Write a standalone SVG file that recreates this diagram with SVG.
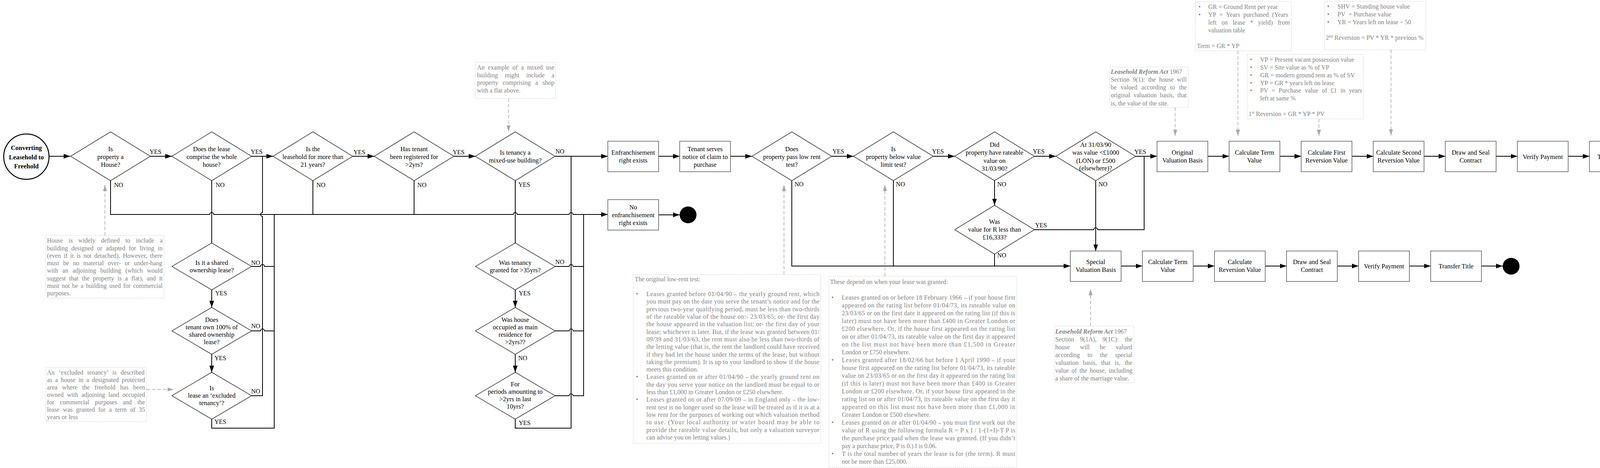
<svg xmlns="http://www.w3.org/2000/svg" width="4300" height="1198" viewBox="0 0 4300 1198">
<defs>
<style>
.c{fill:none;stroke:#000;stroke-width:2}
.d{fill:#fff;stroke:#000;stroke-width:1.2}
.b{fill:#fff;stroke:#555;stroke-width:1.5}
.t{font-family:"Liberation Serif","Times New Roman",serif;font-size:16.5px;fill:#000;text-anchor:middle}
.l{font-family:"Liberation Serif","Times New Roman",serif;font-size:16px;fill:#000}
.n{font-family:"Liberation Serif","Times New Roman",serif;font-size:16px;fill:#7f7f7f}
.nb{fill:#fff;stroke:#c8c8c8;stroke-width:1;stroke-dasharray:3 2}
.da{fill:none;stroke:#a6a6a6;stroke-width:1.5;stroke-dasharray:9 5}
.e{fill:#000}
</style>
<marker id="ar" markerUnits="userSpaceOnUse" markerWidth="18" markerHeight="12" refX="17" refY="6" orient="auto"><path d="M0,0 L17,6 L0,12 z" fill="#000"/></marker>
<marker id="ag" markerUnits="userSpaceOnUse" markerWidth="17" markerHeight="11" refX="16" refY="5" orient="auto"><path d="M0,0 L16,5 L0,10 z" fill="#a6a6a6"/></marker>
</defs>
<rect width="4300" height="1198" fill="#fff"/>

<!-- Notes -->
<g id="note-house">
<rect class="nb" x="117.5" y="602.5" width="302.5" height="160.5"/>
<text class="n" x="120.3" y="621.2" style="word-spacing:10.38px">House is widely defined to include a</text>
<text class="n" x="120.3" y="640.5" style="word-spacing:5.04px">building designed or adapted for living in</text>
<text class="n" x="120.3" y="659.8" style="word-spacing:3.13px">(even if it is not detached). However, there</text>
<text class="n" x="120.3" y="679.1" style="word-spacing:6.23px">must be no material over- or under-hang</text>
<text class="n" x="120.3" y="698.4" style="word-spacing:6.84px">with an adjoining building (which would</text>
<text class="n" x="120.3" y="717.7" style="word-spacing:4.73px">suggest that the property is a flat), and it</text>
<text class="n" x="120.3" y="737" style="word-spacing:2.48px">must not be a building used for commercial</text>
<text class="n" x="120.3" y="756.3">purposes.</text>
</g>
<g id="note-excluded">
<rect class="nb" x="117.5" y="940.7" width="257.5" height="138.6"/>
<text class="n" x="120.3" y="958.8" style="word-spacing:6.33px">An ‘excluded tenancy’ is described</text>
<text class="n" x="120.3" y="977.8" style="word-spacing:3.62px">as a house in a designated protected</text>
<text class="n" x="120.3" y="996.8" style="word-spacing:8.18px">area where the freehold has been</text>
<text class="n" x="120.3" y="1015.8" style="word-spacing:4.53px">owned with adjoining land occupied</text>
<text class="n" x="120.3" y="1034.8" style="word-spacing:10.3px">for commercial purposes and the</text>
<text class="n" x="120.3" y="1053.8" style="word-spacing:4.82px">lease was granted for a term of 35</text>
<text class="n" x="120.3" y="1072.8">years or less</text>
</g>
<g id="note-mixed">
<rect class="nb" x="1217" y="159.3" width="205.5" height="93"/>
<text class="n" x="1221.2" y="178.2" style="word-spacing:4.5px">An example of a mixed use</text>
<text class="n" x="1221.2" y="197.7" style="word-spacing:13.7px">building might include a</text>
<text class="n" x="1221.2" y="217.2" style="word-spacing:7.5px">property comprising a shop</text>
<text class="n" x="1221.2" y="236.7">with a flat above.</text>
</g>
<g id="note-lowrent">
<rect class="nb" x="1621" y="703" width="480" height="432"/>
<text class="n" x="1625" y="719.5">The original low-rent test:</text>
<text class="n" x="1628" y="758.1">•</text>
<text class="n" x="1654.7" y="758.1" textLength="443" lengthAdjust="spacing">Leases granted before 01/04/90 – the yearly ground rent, which</text>
<text class="n" x="1654.7" y="777.4" textLength="443" lengthAdjust="spacing">you must pay on the date you serve the tenant’s notice and for the</text>
<text class="n" x="1654.7" y="796.7" textLength="443" lengthAdjust="spacing">previous two-year qualifying period, must be less than two-thirds</text>
<text class="n" x="1654.7" y="816" textLength="443" lengthAdjust="spacing">of the rateable value of the house on:- 23/03/65; or- the first day</text>
<text class="n" x="1654.7" y="835.3" textLength="443" lengthAdjust="spacing">the house appeared in the valuation list; or- the first day of your</text>
<text class="n" x="1654.7" y="854.6" textLength="443" lengthAdjust="spacing">lease; whichever is later. But, if the lease was granted between 01/</text>
<text class="n" x="1654.7" y="873.9" textLength="443" lengthAdjust="spacing">09/39 and 31/03/63, the rent must also be less than two-thirds of</text>
<text class="n" x="1654.7" y="893.2" textLength="443" lengthAdjust="spacing">the letting value (that is, the rent the landlord could have received</text>
<text class="n" x="1654.7" y="912.5" textLength="443" lengthAdjust="spacing">if they had let the house under the terms of the lease, but without</text>
<text class="n" x="1654.7" y="931.8" textLength="443" lengthAdjust="spacing">taking the premium). It is up to your landlord to show if the house</text>
<text class="n" x="1654.7" y="951.1">meets this condition.</text>
<text class="n" x="1628" y="970.4">•</text>
<text class="n" x="1654.7" y="970.4" textLength="443" lengthAdjust="spacing">Leases granted on or after 01/04/90 – the yearly ground rent on</text>
<text class="n" x="1654.7" y="989.7" textLength="443" lengthAdjust="spacing">the day you serve your notice on the landlord must be equal to or</text>
<text class="n" x="1654.7" y="1009">less than £1,000 in Greater London or £250 elsewhere.</text>
<text class="n" x="1628" y="1028.3">•</text>
<text class="n" x="1654.7" y="1028.3" textLength="443" lengthAdjust="spacing">Leases granted on or after 07/09/09 – in England only – the low-</text>
<text class="n" x="1654.7" y="1047.6" textLength="443" lengthAdjust="spacing">rent test is no longer used so the lease will be treated as if it is at a</text>
<text class="n" x="1654.7" y="1066.9" textLength="443" lengthAdjust="spacing">low rent for the purposes of working out which valuation method</text>
<text class="n" x="1654.7" y="1086.2" textLength="443" lengthAdjust="spacing">to use. (Your local authority or water board may be able to</text>
<text class="n" x="1654.7" y="1105.5" textLength="443" lengthAdjust="spacing">provide the rateable value details, but only a valuation surveyor</text>
<text class="n" x="1654.7" y="1124.8">can advise you on letting values.)</text>
</g>
<g id="note-depend">
<rect class="nb" x="2122" y="707" width="481" height="489"/>
<text class="n" x="2125" y="726.5">These depend on when your lease was granted:</text>
<text class="n" x="2128.5" y="766.5">•</text>
<text class="n" x="2155" y="766.5" textLength="444" lengthAdjust="spacing">Leases granted on or before 18 February 1966 – if your house first</text>
<text class="n" x="2155" y="786.5" textLength="444" lengthAdjust="spacing">appeared on the rating list before 01/04/73, its rateable value on</text>
<text class="n" x="2155" y="806.5" textLength="444" lengthAdjust="spacing">23/03/65 or on the first date it appeared on the rating list (if this is</text>
<text class="n" x="2155" y="826.5" textLength="444" lengthAdjust="spacing">later) must not have been more than £400 in Greater London or</text>
<text class="n" x="2155" y="846.5" textLength="444" lengthAdjust="spacing">£200 elsewhere. Or, if the house first appeared on the rating list</text>
<text class="n" x="2155" y="866.5" textLength="444" lengthAdjust="spacing">on or after 01/04/73, its rateable value on the first day it appeared</text>
<text class="n" x="2155" y="886.5" textLength="444" lengthAdjust="spacing">on the list must not have been more than £1,500 in Greater</text>
<text class="n" x="2155" y="906.5">London or £750 elsewhere.</text>
<text class="n" x="2128.5" y="926.5">•</text>
<text class="n" x="2155" y="926.5" textLength="444" lengthAdjust="spacing">Leases granted after 18/02/66 but before 1 April 1990 – if your</text>
<text class="n" x="2155" y="946.5" textLength="444" lengthAdjust="spacing">house first appeared on the rating list before 01/04/73, its rateable</text>
<text class="n" x="2155" y="966.5" textLength="444" lengthAdjust="spacing">value on 23/03/65 or on the first day it appeared on the rating list</text>
<text class="n" x="2155" y="986.5" textLength="444" lengthAdjust="spacing">(if this is later) must not have been more than £400 in Greater</text>
<text class="n" x="2155" y="1006.5" textLength="444" lengthAdjust="spacing">London or £200 elsewhere. Or, if your house first appeared in the</text>
<text class="n" x="2155" y="1026.5" textLength="444" lengthAdjust="spacing">rating list on or after 01/04/73, its rateable value on the first day it</text>
<text class="n" x="2155" y="1046.5" textLength="444" lengthAdjust="spacing">appeared on this list must not have been more than £1,000 in</text>
<text class="n" x="2155" y="1066.5">Greater London or £500 elsewhere.</text>
<text class="n" x="2128.5" y="1086.5">•</text>
<text class="n" x="2155" y="1086.5" textLength="444" lengthAdjust="spacing">Leases granted on or after 01/04/90 – you must first work out the</text>
<text class="n" x="2155" y="1106.5" textLength="444" lengthAdjust="spacing">value of R using the following formula R = P x I / 1-(1+I)-T P is</text>
<text class="n" x="2155" y="1126.5" textLength="444" lengthAdjust="spacing">the purchase price paid when the lease was granted. (If you didn’t</text>
<text class="n" x="2155" y="1146.5">pay a purchase price, P is 0.) I is 0.06.</text>
<text class="n" x="2128.5" y="1166.5">•</text>
<text class="n" x="2155" y="1166.5" textLength="444" lengthAdjust="spacing">T is the total number of years the lease is for (the term). R must</text>
<text class="n" x="2155" y="1186.5">not be more than £25,000.</text>
</g>
<g id="note-reform-original">
<rect class="nb" x="2841" y="171.7" width="201" height="103.3"/>
<text class="n" x="2843.5" y="188.5"><tspan font-weight="bold" font-style="italic">Leasehold Reform Act</tspan> 1967</text>
<text class="n" x="2843.5" y="208.7" style="word-spacing:4.4px">Section 9(1): the house will</text>
<text class="n" x="2843.5" y="229" style="word-spacing:6.42px">be valued according to the</text>
<text class="n" x="2843.5" y="249.2" style="word-spacing:4.4px">original valuation basis, that</text>
<text class="n" x="2843.5" y="269.5">is, the value of the site.</text>
</g>
<g id="note-reform-special">
<rect class="nb" x="2700" y="834.6" width="203" height="145.4"/>
<text class="n" x="2701.5" y="853.5"><tspan font-weight="bold" font-style="italic">Leasehold Reform Act</tspan> 1967</text>
<text class="n" x="2701.5" y="873.5" style="word-spacing:11.33px">Section 9(1A), 9(1C): the</text>
<text class="n" x="2701.5" y="893.5" style="word-spacing:21.8px">house will be valued</text>
<text class="n" x="2701.5" y="913.5" style="word-spacing:15.33px">according to the special</text>
<text class="n" x="2701.5" y="933.5" style="word-spacing:6.93px">valuation basis, that is, the</text>
<text class="n" x="2701.5" y="953.5" style="word-spacing:3.05px">value of the house, including</text>
<text class="n" x="2701.5" y="973.5">a share of the marriage value.</text>
</g>
<g id="note-term">
<rect class="nb" x="3060" y="4.3" width="246" height="125.7"/>
<text class="n" x="3068" y="23.2">•</text>
<text class="n" x="3093" y="23.2">GR = Ground Rent per year</text>
<text class="n" x="3068" y="43.2">•</text>
<text class="n" x="3093" y="43.2" style="word-spacing:4.68px">YP = Years purchased (Years</text>
<text class="n" x="3093" y="63.2" style="word-spacing:8.66px">left on lease * yield) from</text>
<text class="n" x="3093" y="83.2">valuation table</text>
<text class="n" x="3064" y="123.2">Term = GR * YP</text>
</g>
<g id="note-first">
<rect class="nb" x="3193" y="139.3" width="297" height="165"/>
<text class="n" x="3200" y="158.2">•</text>
<text class="n" x="3226" y="158.2">VP = Present vacant possession value</text>
<text class="n" x="3200" y="178">•</text>
<text class="n" x="3226" y="178">SV = Site value as % of VP</text>
<text class="n" x="3200" y="197.8">•</text>
<text class="n" x="3226" y="197.8">GR = modern ground rent as % of SV</text>
<text class="n" x="3200" y="217.6">•</text>
<text class="n" x="3226" y="217.6">YP = GR * years left on lease</text>
<text class="n" x="3200" y="237.4">•</text>
<text class="n" x="3226" y="237.4" style="word-spacing:5.09px">PV = Purchase value of £1 in years</text>
<text class="n" x="3226" y="257.2">left at same %</text>
<text class="n" x="3196.6" y="296.8">1<tspan font-size="10" dy="-6">st</tspan><tspan dy="6"> Reversion = GR * YP * PV</tspan></text>
</g>
<g id="note-second">
<rect class="nb" x="3390.7" y="3.3" width="259.3" height="124.4"/>
<text class="n" x="3397.6" y="22.2">•</text>
<text class="n" x="3423.8" y="22.2">SHV = Standing house value</text>
<text class="n" x="3397.6" y="42.2">•</text>
<text class="n" x="3423.8" y="42.2">PV&#160; = Purchase value</text>
<text class="n" x="3397.6" y="62.2">•</text>
<text class="n" x="3423.8" y="62.2">YR = Years left on lease ÷ 50</text>
<text class="n" x="3394" y="102.2">2<tspan font-size="10" dy="-6">nd</tspan><tspan dy="6"> Reversion = PV * YR * previous %</tspan></text>
</g>

<!-- Connectors -->
<g id="connectors">
<g class="c">
<path d="M125.5,400 L180,400" marker-end="url(#ar)"/>
<path d="M385,400 L440,400" marker-end="url(#ar)"/>
<path d="M644,400 L699,400" marker-end="url(#ar)"/>
<path d="M903,400 L958,400" marker-end="url(#ar)"/>
<path d="M1162,400 L1217,400" marker-end="url(#ar)"/>
<path d="M1421,400 L1556,400" marker-end="url(#ar)"/>
<path d="M1686,400 L1740,400" marker-end="url(#ar)"/>
<path d="M1870,400 L1925,400" marker-end="url(#ar)"/>
<path d="M2129,400 L2185,400" marker-end="url(#ar)"/>
<path d="M2389,400 L2444,400" marker-end="url(#ar)"/>
<path d="M2648,400 L2703,400" marker-end="url(#ar)"/>
<path d="M2907,400 L2962,400" marker-end="url(#ar)"/>
<path d="M3092,400 L3146.5,400" marker-end="url(#ar)"/>
<path d="M3276.5,400 L3331,400" marker-end="url(#ar)"/>
<path d="M3461,400 L3515.5,400" marker-end="url(#ar)"/>
<path d="M3645.5,400 L3700,400" marker-end="url(#ar)"/>
<path d="M3830,400 L3884.5,400" marker-end="url(#ar)"/>
<path d="M4014.5,400 L4069,400" marker-end="url(#ar)"/>
<path d="M4199,400 L4252.5,400" marker-end="url(#ar)"/>
<path d="M2870,681 L2924.5,681" marker-end="url(#ar)"/>
<path d="M3054.5,681 L3109,681" marker-end="url(#ar)"/>
<path d="M3239,681 L3293.5,681" marker-end="url(#ar)"/>
<path d="M3423.5,681 L3478,681" marker-end="url(#ar)"/>
<path d="M3608,681 L3662.5,681" marker-end="url(#ar)"/>
<path d="M3792.5,681 L3847,681" marker-end="url(#ar)"/>
<path d="M1686,550 L1740,550" marker-end="url(#ar)"/>
<path d="M283,462.5 L283,549 L537,549 A5,5 0 0 1 547,549 L1314,549 A5,5 0 0 1 1324,549 L1457,549 A5,5 0 0 1 1467,549 L1556,549" marker-end="url(#ar)"/>
<path d="M542,462.5 L542,622"/>
<path d="M542,742 L542,787" marker-end="url(#ar)"/>
<path d="M542,907 L542,953" marker-end="url(#ar)"/>
<path d="M542,1073 L542,1096 L702,1096 L702,549"/>
<path d="M644,682 L667,682 A5,5 0 0 1 677,682 L702,682"/>
<path d="M644,847 L667,847 A5,5 0 0 1 677,847 L702,847"/>
<path d="M644,1013 L672,1013 L672,554 A5,5 0 0 1 672,544 L672,400"/>
<path d="M801,462.5 L801,549"/>
<path d="M1060,462.5 L1060,549"/>
<path d="M1319,462.5 L1319,622"/>
<path d="M1319,742 L1319,787" marker-end="url(#ar)"/>
<path d="M1319,907 L1319,953" marker-end="url(#ar)"/>
<path d="M1319,1073 L1319,1096 L1462,1096 L1462,400"/>
<path d="M1421,682 L1457,682 A5,5 0 0 1 1467,682 L1494,682"/>
<path d="M1421,847 L1457,847 A5,5 0 0 1 1467,847 L1494,847"/>
<path d="M1421,1013 L1457,1013 A5,5 0 0 1 1467,1013 L1494,1013 L1494,549"/>
<path d="M2027,462.5 L2027,681 L2740,681" marker-end="url(#ar)"/>
<path d="M2287,462.5 L2287,681"/>
<path d="M2546,462.5 L2546,525.5" marker-end="url(#ar)"/>
<path d="M2546,650.5 L2546,681"/>
<path d="M2648,588 L2800,588 A5,5 0 0 1 2810,588 L2929,588 L2929,400"/>
<path d="M2805,462.5 L2805,642.5" marker-end="url(#ar)"/>
</g>
<g class="da">
<path d="M268.6,603 L268.6,473" marker-end="url(#ag)"/>
<path d="M375,997 L444.5,997" marker-end="url(#ag)"/>
<path d="M1302,252.3 L1302,337" marker-end="url(#ag)"/>
<path d="M2007,703 L2007,473" marker-end="url(#ag)"/>
<path d="M2265.4,707 L2265.4,473" marker-end="url(#ag)"/>
<path d="M2791.8,834.6 L2791.8,740" marker-end="url(#ag)"/>
<path d="M3008.5,275 L3008.5,348" marker-end="url(#ag)"/>
<path d="M3169,130 L3169,348" marker-end="url(#ag)"/>
<path d="M3376.5,304.3 L3376.5,348" marker-end="url(#ag)"/>
<path d="M3561,127.7 L3561,347" marker-end="url(#ag)"/>
</g>
<g class="l">
<text x="383" y="393.5">YES</text>
<text x="292" y="478.5">NO</text>
<text x="642" y="393.5">YES</text>
<text x="552" y="478.5">NO</text>
<text x="905" y="394.5">YES</text>
<text x="810" y="478.5">NO</text>
<text x="1159" y="394.5">YES</text>
<text x="1068.6" y="478.5">NO</text>
<text x="1327" y="477.5">YES</text>
<text x="1421.7" y="393">NO</text>
<text x="643" y="677.5">NO</text>
<text x="551" y="755.5">YES</text>
<text x="643" y="839.5">NO</text>
<text x="549" y="922">YES</text>
<text x="643" y="1006.5">NO</text>
<text x="549" y="1084.5">YES</text>
<text x="1328" y="755.5">YES</text>
<text x="1421.6" y="676">NO</text>
<text x="1326.7" y="922">NO</text>
<text x="1328" y="1088">YES</text>
<text x="2034" y="477">NO</text>
<text x="2131" y="393">YES</text>
<text x="2293.6" y="477">NO</text>
<text x="2386" y="393">YES</text>
<text x="2644" y="393">YES</text>
<text x="2553" y="477">NO</text>
<text x="2904" y="393.5">YES</text>
<text x="2812" y="477">NO</text>
<text x="2650" y="582">YES</text>
<text x="2553" y="658.5">NO</text>
</g>
</g>

<!-- Nodes -->
<g id="start">
<circle cx="67.5" cy="401" r="58" fill="#fff" stroke="#000" stroke-width="2.5"/>
<text class="t" x="67.5" y="384" font-size="20" font-weight="bold">Converting</text>
<text class="t" x="67.5" y="407.5" font-size="20" font-weight="bold">Leasehold to</text>
<text class="t" x="67.5" y="431" font-size="20" font-weight="bold">Freehold</text>
</g>
<g id="d-house">
<polygon class="d" points="181,400 283,337.5 385,400 283,462.5"/>
<text class="t" x="283" y="386.5">Is</text><text class="t" x="283" y="406.5">property a</text><text class="t" x="283" y="426.5">House?</text>
</g>
<g id="d-whole">
<polygon class="d" points="440,400 542,337.5 644,400 542,462.5"/>
<text class="t" x="542" y="386.5">Does the lease</text><text class="t" x="542" y="406.5">comprise the whole</text><text class="t" x="542" y="426.5">house?</text>
</g>
<g id="d-21years">
<polygon class="d" points="699,400 801,337.5 903,400 801,462.5"/>
<text class="t" x="801" y="386.5">Is the</text><text class="t" x="801" y="406.5">leasehold for more than</text><text class="t" x="801" y="426.5">21 years?</text>
</g>
<g id="d-registered">
<polygon class="d" points="958,400 1060,337.5 1162,400 1060,462.5"/>
<text class="t" x="1060" y="386.5">Has tenant</text><text class="t" x="1060" y="406.5">been registered for</text><text class="t" x="1060" y="426.5">&gt;2yrs?</text>
</g>
<g id="d-mixed">
<polygon class="d" points="1217,400 1319,337.5 1421,400 1319,462.5"/>
<text class="t" x="1319" y="396.2">Is tenancy a</text><text class="t" x="1319" y="416.2">mixed-use building?</text>
</g>
<g id="d-shared">
<polygon class="d" points="440,682 542,622 644,682 542,742"/>
<text class="t" x="542" y="677.8">Is it a shared</text><text class="t" x="542" y="697.2">ownership lease?</text>
</g>
<g id="d-own100">
<polygon class="d" points="440,847 542,787 644,847 542,907"/>
<text class="t" x="542" y="823.5">Does</text><text class="t" x="542" y="842.5">tenant own 100% of</text><text class="t" x="542" y="861.5">shared ownership</text><text class="t" x="542" y="880.5">lease?</text>
</g>
<g id="d-excluded">
<polygon class="d" points="440,1013 542,953 644,1013 542,1073"/>
<text class="t" x="542" y="998.5">Is</text><text class="t" x="542" y="1017.5">lease an ‘excluded</text><text class="t" x="542" y="1036.5">tenancy’?</text>
</g>
<g id="d-granted">
<polygon class="d" points="1217,682 1319,622 1421,682 1319,742"/>
<text class="t" x="1319" y="678.2">Was tenancy</text><text class="t" x="1319" y="697.2">granted for &gt;35yrs?</text>
</g>
<g id="d-occupied">
<polygon class="d" points="1217,847 1319,787 1421,847 1319,907"/>
<text class="t" x="1319" y="823.5">Was house</text><text class="t" x="1319" y="842.5">occupied as main</text><text class="t" x="1319" y="861.5">residence for</text><text class="t" x="1319" y="880.5">&gt;2yrs??</text>
</g>
<g id="d-periods">
<polygon class="d" points="1217,1013 1319,953 1421,1013 1319,1073"/>
<text class="t" x="1319" y="988.5">For</text><text class="t" x="1319" y="1007.5">periods amounting to</text><text class="t" x="1319" y="1026.5">&gt;2yrs in last</text><text class="t" x="1319" y="1045.5">10yrs?</text>
</g>
<g id="b-enfranchisement">
<rect class="b" x="1556" y="361.5" width="130" height="78"/>
<text class="t" x="1621" y="396.2">Enfranchisement</text><text class="t" x="1621" y="416.2">right exists</text>
</g>
<g id="b-notice">
<rect class="b" x="1740" y="361.5" width="130" height="78"/>
<text class="t" x="1805" y="386.5">Tenant serves</text><text class="t" x="1805" y="406.5">notice of claim to</text><text class="t" x="1805" y="426.5">purchase</text>
</g>
<g id="b-noenfranchisement">
<rect class="b" x="1556" y="511" width="130" height="78"/>
<text class="t" x="1621" y="535.5">No</text><text class="t" x="1621" y="555.5">enfranchisement</text><text class="t" x="1621" y="575.5">right exists</text>
</g>
<g id="end-none"><circle class="e" cx="1761.5" cy="550" r="21.5"/></g>
<g id="d-lowrent">
<polygon class="d" points="1925,400 2027,337.5 2129,400 2027,462.5"/>
<text class="t" x="2027" y="386.5">Does</text><text class="t" x="2027" y="406.5">property pass low rent</text><text class="t" x="2027" y="426.5">test?</text>
</g>
<g id="d-valuelimit">
<polygon class="d" points="2185,400 2287,337.5 2389,400 2287,462.5"/>
<text class="t" x="2287" y="386.5">Is</text><text class="t" x="2287" y="406.5">property below value</text><text class="t" x="2287" y="426.5">limit test?</text>
</g>
<g id="d-rateable">
<polygon class="d" points="2444,400 2546,337.5 2648,400 2546,462.5"/>
<text class="t" x="2546" y="376.2">Did</text><text class="t" x="2546" y="396.2">property have rateable</text><text class="t" x="2546" y="416.5">value on</text><text class="t" x="2546" y="436.5">31/03/90?</text>
</g>
<g id="d-value1990">
<polygon class="d" points="2703,400 2805,337.5 2907,400 2805,462.5"/>
<text class="t" x="2805" y="375.5">At 31/03/90</text><text class="t" x="2805" y="396.2">was value &lt;£1000</text><text class="t" x="2805" y="416.5">(LON) or £500</text><text class="t" x="2805" y="436.4">(elsewhere)?</text>
</g>
<g id="d-valueR">
<polygon class="d" points="2444,588 2546,525.5 2648,588 2546,650.5"/>
<text class="t" x="2546" y="573.2">Was</text><text class="t" x="2546" y="593.2">value for R less than</text><text class="t" x="2546" y="613.2">£16,333?</text>
</g>
<g id="b-original">
<rect class="b" x="2962" y="361.5" width="130" height="78"/>
<text class="t" x="3027" y="396.2">Original</text><text class="t" x="3027" y="416.2">Valuation Basis</text>
</g>
<g id="b-term1">
<rect class="b" x="3146.5" y="361.5" width="130" height="78"/>
<text class="t" x="3211.5" y="396.2">Calculate Term</text><text class="t" x="3211.5" y="416.2">Value</text>
</g>
<g id="b-first">
<rect class="b" x="3331" y="361.5" width="130" height="78"/>
<text class="t" x="3396" y="396.2">Calculate First</text><text class="t" x="3396" y="416.2">Reversion Value</text>
</g>
<g id="b-second">
<rect class="b" x="3515.5" y="361.5" width="130" height="78"/>
<text class="t" x="3580.5" y="396.2">Calculate Second</text><text class="t" x="3580.5" y="416.2">Reversion Value</text>
</g>
<g id="b-draw1">
<rect class="b" x="3700" y="361.5" width="130" height="78"/>
<text class="t" x="3765" y="396.2">Draw and Seal</text><text class="t" x="3765" y="416.2">Contract</text>
</g>
<g id="b-verify1">
<rect class="b" x="3884.5" y="361.5" width="130" height="78"/>
<text class="t" x="3949.5" y="406.5">Verify Payment</text>
</g>
<g id="b-transfer1">
<rect class="b" x="4069" y="361.5" width="130" height="78"/>
<text class="t" x="4134" y="406.5">Transfer Title</text>
</g>
<g id="end-original"><circle class="e" cx="4274.5" cy="401" r="22"/></g>
<g id="b-special">
<rect class="b" x="2740" y="642.5" width="130" height="78"/>
<text class="t" x="2805" y="676">Special</text><text class="t" x="2805" y="696.2">Valuation Basis</text>
</g>
<g id="b-term2">
<rect class="b" x="2924.5" y="642.5" width="130" height="78"/>
<text class="t" x="2989.5" y="676">Calculate Term</text><text class="t" x="2989.5" y="696.2">Value</text>
</g>
<g id="b-reversion">
<rect class="b" x="3109" y="642.5" width="130" height="78"/>
<text class="t" x="3174" y="676">Calculate</text><text class="t" x="3174" y="696.2">Reversion Value</text>
</g>
<g id="b-draw2">
<rect class="b" x="3293.5" y="642.5" width="130" height="78"/>
<text class="t" x="3358.5" y="676">Draw and Seal</text><text class="t" x="3358.5" y="696.2">Contract</text>
</g>
<g id="b-verify2">
<rect class="b" x="3478" y="642.5" width="130" height="78"/>
<text class="t" x="3543" y="687">Verify Payment</text>
</g>
<g id="b-transfer2">
<rect class="b" x="3662.5" y="642.5" width="130" height="78"/>
<text class="t" x="3727.5" y="687">Transfer Title</text>
</g>
<g id="end-special"><circle class="e" cx="3868.5" cy="681.5" r="21.5"/></g>
</svg>
